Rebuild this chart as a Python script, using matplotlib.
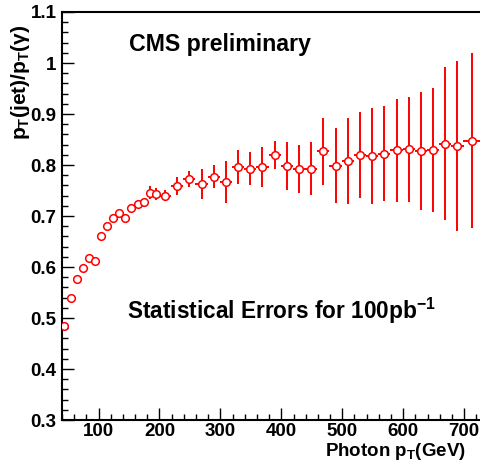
import matplotlib
matplotlib.use('Agg')
from matplotlib import pyplot as plt
from matplotlib.ticker import MultipleLocator

# photon pT bin centres (GeV), response ratio and statistical errors
pt = [44, 54, 64, 74, 84, 94, 104, 114, 124, 134, 144, 154, 164, 174, 184, 194,
      209, 229, 249, 269, 289, 309, 329, 349, 369, 389, 409, 429, 449, 469, 489,
      509, 529, 549, 569, 589, 609, 629, 649, 669, 689, 713]
pt_halfwidth = [5, 5, 5, 5, 5, 5, 5, 5, 5, 5, 5, 5, 5, 5, 5, 5,
                10, 10, 10, 10, 10, 10, 10, 10, 10, 10, 10, 10, 10, 10, 10,
                10, 10, 10, 10, 10, 10, 10, 10, 10, 10, 15]
ratio = [0.484, 0.539, 0.576, 0.599, 0.617, 0.612, 0.661, 0.681, 0.697, 0.705,
         0.697, 0.716, 0.724, 0.727, 0.746, 0.743, 0.740, 0.759, 0.773, 0.763,
         0.777, 0.766, 0.796, 0.793, 0.796, 0.820, 0.798, 0.793, 0.793, 0.827,
         0.799, 0.808, 0.819, 0.818, 0.822, 0.829, 0.831, 0.827, 0.829, 0.842,
         0.837, 0.848]
ratio_err = [0.002, 0.002, 0.002, 0.003, 0.003, 0.003, 0.003, 0.004, 0.004, 0.004,
             0.005, 0.005, 0.006, 0.007, 0.012, 0.011, 0.011, 0.017, 0.016, 0.029,
             0.023, 0.041, 0.033, 0.032, 0.040, 0.028, 0.048, 0.047, 0.052, 0.066,
             0.074, 0.085, 0.084, 0.094, 0.093, 0.101, 0.103, 0.116, 0.122, 0.150,
             0.167, 0.172]

plt.rcParams['font.family'] = ['Liberation Sans', 'DejaVu Sans']
plt.rcParams['font.weight'] = 'bold'
plt.rcParams['mathtext.fontset'] = 'custom'
plt.rcParams['mathtext.rm'] = 'Liberation Sans:bold'
plt.rcParams['mathtext.bf'] = 'Liberation Sans:bold'
plt.rcParams['mathtext.it'] = 'Liberation Sans:bold'

fig = plt.figure(figsize=(4.8, 4.61), dpi=100)
ax = fig.add_axes([62/480, 1-420/461, 418/480, 408/461])

ax.errorbar(pt, ratio, yerr=ratio_err, xerr=pt_halfwidth, fmt='o', color='red',
            ecolor='red', elinewidth=1.4, capsize=0, markersize=5.5,
            markerfacecolor='white', markeredgecolor='red', markeredgewidth=1.1,
            zorder=3)

ax.set_xlim(40, 726)
ax.set_ylim(0.3, 1.1)
ax.xaxis.set_major_locator(MultipleLocator(100))
ax.xaxis.set_minor_locator(MultipleLocator(20))
ax.yaxis.set_minor_locator(MultipleLocator(0.02))
ax.set_yticks([0.3, 0.4, 0.5, 0.6, 0.7, 0.8, 0.9, 1.0, 1.1])
ax.set_yticklabels(['0.3', '0.4', '0.5', '0.6', '0.7', '0.8', '0.9', '1', '1.1'])
ax.tick_params(which='both', direction='in', top=False, right=False,
               labelsize=13.5, width=1)
ax.tick_params(which='major', length=8.5)
ax.tick_params(which='minor', length=4.3)
ax.tick_params(axis='y', pad=4)
ax.tick_params(axis='x', pad=2.5)
for s in ['left', 'bottom', 'top']:
    ax.spines[s].set_linewidth(1.5)
ax.spines['right'].set_visible(False)

ax.set_xlabel(r'Photon p$_{T}$(GeV)', fontsize=13.5, fontweight='bold')
ax.xaxis.set_label_coords(1 - 14/418, -31/408)
ax.xaxis.label.set_ha('right')
ax.xaxis.label.set_va('center')
ax.set_ylabel(r'p$_{T}$(jet)/p$_{T}$($\gamma$)', fontsize=15, fontweight='bold')
ax.yaxis.set_label_coords(-42/418, 1 - 70/408)
ax.yaxis.label.set_va('center')

fig.text(220/480, 1-45/461, 'CMS preliminary', fontsize=16.7, fontweight='bold',
         ha='center', va='center')
fig.text(282/480, 1-311/461, r'Statistical Errors for 100pb$^{-1}$', fontsize=16.3,
         fontweight='bold', ha='center', va='center')

fig.savefig('out.png', dpi=100)
